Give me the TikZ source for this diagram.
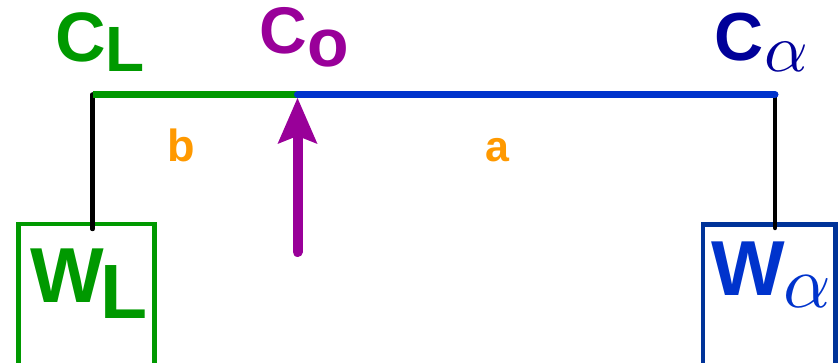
\documentclass[tikz,border=0pt]{standalone}
\usepackage{fontspec}
\setmainfont{Liberation Sans}
\usetikzlibrary{arrows.meta}
\definecolor{cgreen}{RGB}{0,153,0}
\definecolor{cblue}{RGB}{0,51,204}
\definecolor{cnavy}{RGB}{0,0,153}
\definecolor{cbox}{RGB}{0,51,153}
\definecolor{cpurple}{RGB}{153,0,153}
\definecolor{corange}{RGB}{255,153,0}
\newcommand{\bigalpha}[1]{\scalebox{#1}{\fontsize{10pt}{12pt}\selectfont$\alpha$}}
\begin{document}
\begin{tikzpicture}[x=1pt,y=-1pt,
  txt/.style={inner sep=0pt, outer sep=0pt, anchor=base west, font=\bfseries},
  beam/.style={line width=7pt},
  hanger/.style={draw=black, line width=4.5pt, line cap=round},
  weightbox/.style={draw, line width=4.5pt, minimum width=136pt, minimum height=170pt, inner sep=0pt, outer sep=0pt, anchor=north}]
\useasboundingbox (0,0) rectangle (840,363);
\clip (0,0) rectangle (840,363);
% beam points
\coordinate (cL) at (92.5,94.5);
\coordinate (c0) at (297.5,94.5);
\coordinate (ca) at (775,94.5);
\coordinate (tip) at (297.5,98);
\coordinate (abase) at (297.5,252);
\coordinate (hL) at (92.5,229);
\coordinate (ha) at (775,228);
% boxes
\node[weightbox, draw=cgreen] (wlbox) at (86.5,224) {};
\node[weightbox, draw=cbox, minimum width=132.5pt] (wabox) at (769.25,224.5) {};
% hangers
\draw[hanger] (cL) -- (hL);
\draw[hanger] (ca) -- (ha);
% beam
\draw[beam, cgreen] (cL) -- (c0);
\draw[beam, cblue, line cap=round] (c0) -- (ca);
% support arrow
\draw[cpurple, line width=10pt, line cap=round,
  -{Stealth[length=46pt, width=40pt, inset=8pt, line width=0pt]}] (abase) -- (tip);
% labels
\node[txt, text=cgreen] (lcl) at (55,62) {\fontsize{70pt}{72pt}\selectfont C\raisebox{-10pt}{\fontsize{64pt}{66pt}\selectfont L}};
\node[txt, text=cpurple] (lco) at (259,54) {\fontsize{66pt}{68pt}\selectfont C\kern1pt\raisebox{-13pt}{\fontsize{68pt}{70pt}\selectfont o}};
\node[txt, text=cnavy] (lca) at (714,61) {\fontsize{68pt}{70pt}\selectfont C\kern1pt\raisebox{-11pt}{\bigalpha{6.8}}};
\node[txt, text=corange] (lb) at (167.5,162) {\fontsize{45pt}{47pt}\selectfont b};
\node[txt, text=corange] (la) at (485.5,162) {\fontsize{43pt}{45pt}\selectfont a};
\node[txt, text=cgreen] (lwl) at (30,302) {\fontsize{78pt}{80pt}\selectfont W\kern-3pt\raisebox{-16pt}{\fontsize{77pt}{79pt}\selectfont L}};
\node[txt, text=cblue] (lwa) at (711,295) {\fontsize{78pt}{80pt}\selectfont W\kern-1pt\raisebox{-13pt}{\bigalpha{7.4}}};
\end{tikzpicture}
\end{document}
